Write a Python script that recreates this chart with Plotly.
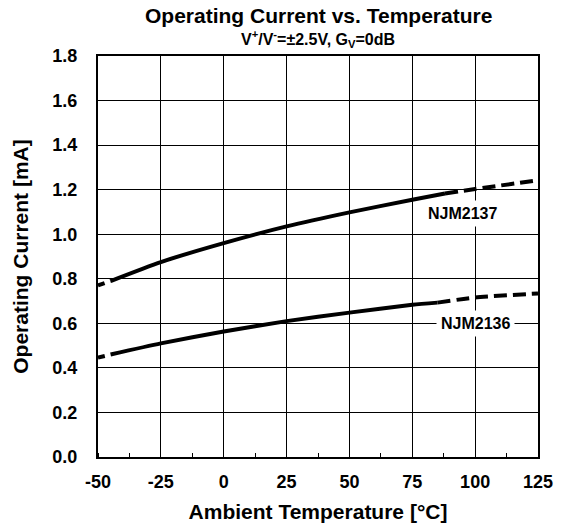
import plotly.graph_objects as go

# NJM2137 data (Ambient Temperature [°C], Operating Current [mA])
t2137_solid = [-45, -25, 0, 25, 50, 75, 88]
i2137_solid = [0.79, 0.875, 0.96, 1.035, 1.098, 1.155, 1.183]
t2137_dash_lo = [-50, -45]
i2137_dash_lo = [0.77, 0.79]
t2137_dash_hi = [88, 100, 125]
i2137_dash_hi = [1.183, 1.203, 1.242]

# NJM2136 data
t2136_solid = [-45, -25, 0, 25, 50, 75, 85]
i2136_solid = [0.46, 0.51, 0.563, 0.61, 0.648, 0.683, 0.693]
t2136_dash_lo = [-50, -45]
i2136_dash_lo = [0.446, 0.46]
t2136_dash_hi = [85, 100, 125]
i2136_dash_hi = [0.693, 0.716, 0.734]

x_ticks = [-50, -25, 0, 25, 50, 75, 100, 125]
y_ticks = [0.0, 0.2, 0.4, 0.6, 0.8, 1.0, 1.2, 1.4, 1.6, 1.8]

FONT = "Liberation Sans, Arial, sans-serif"
DASH_HI = "13px,6px"
DASH_LO = "7px,6px"
LW = 4

fig = go.Figure()

def add(x, y, dash):
    fig.add_trace(go.Scatter(x=x, y=y, mode="lines",
                             line=dict(color="black", width=LW, dash=dash, shape="spline", smoothing=0.6),
                             showlegend=False, hoverinfo="skip"))

add(t2137_dash_lo, i2137_dash_lo, DASH_LO)
add(t2137_solid, i2137_solid, "solid")
add(t2137_dash_hi, i2137_dash_hi, DASH_HI)
add(t2136_dash_lo, i2136_dash_lo, DASH_LO)
add(t2136_solid, i2136_solid, "solid")
add(t2136_dash_hi, i2136_dash_hi, DASH_HI)

fig.update_layout(
    width=563, height=529,
    margin=dict(l=98, r=25, t=56, b=72),
    paper_bgcolor="white", plot_bgcolor="white",
    font=dict(family=FONT, color="black", size=18, weight="bold"),
    xaxis=dict(
        range=[-50, 125], tickvals=x_ticks, ticktext=[str(v) for v in x_ticks],
        showgrid=True, gridcolor="black", gridwidth=1,
        showline=True, linecolor="black", linewidth=2, mirror=True,
        ticks="", ticklabelstandoff=7, zeroline=False, automargin=False,
        tickfont=dict(size=18, family=FONT, weight="bold"),
        minor=dict(dtick=12.5, tick0=-50, ticks="inside", ticklen=4, tickcolor="black", tickwidth=1, showgrid=False),
        title=dict(text="Ambient Temperature [°C]", font=dict(size=21, family=FONT, weight="bold"), standoff=14),
    ),
    yaxis=dict(
        range=[0, 1.8], tickvals=y_ticks, ticktext=[f"{v:.1f}" for v in y_ticks],
        showgrid=True, gridcolor="black", gridwidth=1,
        showline=True, linecolor="black", linewidth=2, mirror=True,
        ticks="", ticklabelstandoff=15, zeroline=False, automargin=False,
        tickfont=dict(size=18, family=FONT, weight="bold"),
        title=dict(text="Operating Current [mA]", font=dict(size=21, family=FONT, weight="bold"), standoff=18),
    ),
    annotations=[
        dict(text="Operating Current vs. Temperature", xref="paper", yref="paper", x=0.5, y=1.0998,
             xanchor="center", yanchor="middle", showarrow=False, font=dict(size=21, family=FONT, weight="bold")),
        dict(text="V<sup>+</sup>/V<sup>-</sup>=±2.5V, G<sub>V</sub>=0dB", xref="paper", yref="paper", x=0.5, y=1.0424,
             xanchor="center", yanchor="middle", showarrow=False, font=dict(size=16, family=FONT, weight="bold")),
        dict(text="NJM2137", x=95, y=1.094, xref="x", yref="y", showarrow=False, bgcolor="white", borderpad=4,
             font=dict(size=16, family=FONT, weight="bold")),
        dict(text="NJM2136", x=100, y=0.6, xref="x", yref="y", showarrow=False, bgcolor="white", borderpad=4,
             font=dict(size=16, family=FONT, weight="bold")),
    ],
)

fig.write_html(
    "out.html",
    config={"displayModeBar": False},
    post_script="document.documentElement.style.margin='0';document.body.style.margin='0';document.body.style.overflow='hidden';",
)
